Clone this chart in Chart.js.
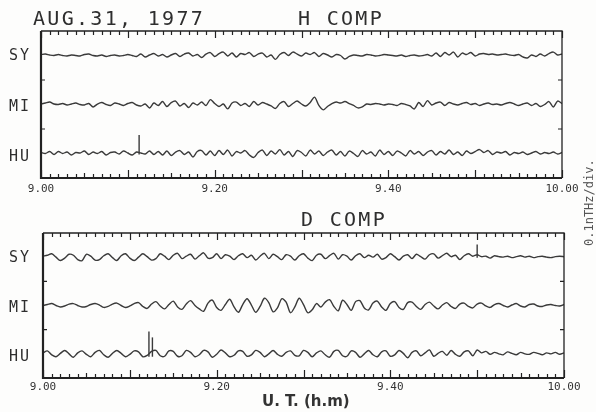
<!DOCTYPE html>
<html>
<head>
<meta charset="utf-8">
<script src="https://cdn.jsdelivr.net/npm/chart.js@4"></script>
<style>
  body { margin:0; width:596px; height:412px; overflow:hidden; position:relative; background:#fdfdfc; color:#2e2e2e; font-family:'DejaVu Sans Mono', monospace; }
  canvas { position:absolute; left:0; }
  #hcomp { top:0; }
  #dcomp { top:200px; }
  .lbl { position:absolute; white-space:nowrap; line-height:1; }
  .title { font-size:20px; letter-spacing:2.3px; }
  .stn { font-size:15px; letter-spacing:2px; left:9px; }
  .ut { font-family:'DejaVu Sans', sans-serif; font-weight:bold; font-size:15px; left:262px; top:394px; color:#333; }
  .unit { font-size:12px; left:583px; top:246px; transform:rotate(-90deg); transform-origin:0 0; color:#555; }
</style>
</head>
<body>
<canvas id="hcomp" width="596" height="200"></canvas>
<canvas id="dcomp" width="596" height="212"></canvas>

<div class="lbl title" style="left:33px;top:8px">AUG.31, 1977</div>
<div class="lbl title" style="left:298px;top:8px">H COMP</div>
<div class="lbl title" style="left:301px;top:209px">D COMP</div>
<div class="lbl stn" style="top:48px">SY</div>
<div class="lbl stn" style="top:99px">MI</div>
<div class="lbl stn" style="top:149px">HU</div>
<div class="lbl stn" style="top:250px">SY</div>
<div class="lbl stn" style="top:300px">MI</div>
<div class="lbl stn" style="top:349px">HU</div>
<div class="lbl ut">U. T. (h.m)</div>
<div class="lbl unit">0.1nTHz/div.</div>

<script>
// samples every half minute from 9.00 to 10.00 UT
var STEP = 0.5;
var TICK_LABELS = ['9.00', '9.20', '9.40', '10.00'];
var STATIONS = ['SY', 'MI', 'HU'];
var BASE = { SY: 5, MI: 3, HU: 1 };   // trace zero lines, in divisions

// deviations in 1/100 division
var H_SY = [4, 6, 2, 0, 4, 0, -2, 2, 0, -2, 4,
  6, 0, -2, 2, -4, 0, 2, -2, 0, 4,
  0, -4, 6, -6, 2, 8, -2, 4, -6, 2,
  8, -4, 6, 10, -2, 4, -8, 6, 12, -4,
  8, 14, -2, 10, -6, 8, 4, 12, -4, 6,
  10, -6, 2, -16, 4, 12, 0, 14, 6, -2,
  10, 4, 12, -4, 8, 2, -6, 4, 0, -14,
  -4, 2, 0, -2, 4, 2, -2, 0, 4, 2,
  0, -2, 2, -4, 0, 2, -2, 0, 4, -2,
  10, -4, 12, 2, 14, -6, 10, 4, 12, -2,
  6, 8, 4, 6, 2, 4, 6, 2, 0, 4,
  -6, -10, 2, -4, 6, -2, 8, 14, 2, 6];
var H_MI = [2, 6, 10, 2, 0, 4, -2, 2, 6, 0, -2,
  4, -10, 2, 8, 0, -4, 6, 2, -4, 4,
  8, -2, -6, 2, -14, 6, -4, 12, -8, 8,
  14, -6, 4, -12, 6, -2, 10, -4, 20, 4,
  -8, 2, -18, 6, 10, -4, 4, -8, 12, -2,
  8, 2, -6, -16, 4, 12, -8, 4, 14, 2,
  -6, 8, 30, -4, -22, -8, 4, 10, 6, 12,
  4, -4, -14, -10, 2, 0, 4, 2, -2, 2,
  0, -4, 4, 0, -6, -18, 8, -8, 16, -2,
  6, 10, -4, 8, 2, -2, 4, 8, 0, 4,
  -4, 2, 6, 0, 2, -2, 4, 8, 2, -4,
  2, 6, -4, 4, -8, 0, 12, -10, 14, 4];
var H_HU = [4, 0, 8, -4, 8, 0, 6, -6, 4, 2, 10,
  -4, 6, 0, 8, -6, 4, 6, -2, 10, 2,
  -6, 6, 2, -2, 10, -4, 8, -6, 10, -8,
  6, 12, -4, 6, -14, 8, 12, -6, 10, -8,
  12, -4, 14, -10, 8, 2, 12, -6, -16, 4,
  14, -8, 10, -2, 16, -6, 8, -12, 12, 4,
  -10, 14, -2, 10, -8, 6, 14, -6, 8, -10,
  10, 0, -12, 12, -2, 6, -10, 14, -4, 8,
  -8, 10, 2, -10, 12, -2, 8, -8, 6, 12,
  -6, 8, -2, 14, -4, 6, -8, 10, 0, 8,
  16, 4, 12, -4, 6, 2, 8, -6, 4, 0,
  6, -4, 2, 8, -2, 4, 0, 6, -2, 4];

var D_SY = [4, 8, 14, 0, -14, -4, 12, 8, -10, -14, 12,
  4, -12, -10, 6, 14, -2, -14, 6, 14, -4,
  -14, 0, 14, 2, -12, -6, 14, 4, -10, 8,
  16, -6, 4, 12, -8, 6, 18, -4, -2, 14,
  -6, 10, 4, -10, 6, 14, -2, 8, -12, 4,
  16, -6, 12, 2, -10, 10, 4, -12, 6, 14,
  -4, -14, 8, 12, -6, 6, 16, -8, 10, 4,
  -12, 6, 14, -2, 8, 0, 12, -8, -2, 14,
  2, -12, 4, 10, -6, 12, 2, -8, 10, 14,
  -4, 6, 16, 2, 8, -10, 6, 14, 4, 10,
  2, 4, -4, 6, 2, 0, 4, -2, 2, 6,
  0, 4, -2, 2, 4, 0, -2, 2, 4, 2];
var D_MI = [0, 4, 8, 0, -6, -2, 6, 8, 0, -6, -4,
  4, 8, 2, -8, -4, 6, 10, 0, -8, -2,
  8, 12, -4, -12, 6, 16, -2, -14, 4, 18,
  -6, -16, 6, 20, 0, -14, -24, 10, 22, -8,
  -20, 4, 26, -6, -28, 4, 28, 2, -28, -4,
  30, 12, -26, -10, 28, 14, -30, -6, 30, 4,
  -30, -18, 8, -6, 14, 24, -4, -22, 22, 4,
  -20, 16, 20, -10, -18, 10, 18, -6, -20, 8,
  16, -8, -16, 12, 14, -4, -16, 4, 14, -2,
  -14, 2, 12, -4, -12, 6, 10, -4, -10, 6,
  10, -2, -8, 4, 8, 0, -6, 2, 8, -2,
  -6, 4, 6, -2, -4, 2, 4, 0, -2, 4];
var D_HU = [4, 12, -4, -12, 2, 14, 0, -14, 4, 12, -2,
  -12, 6, 14, -4, -14, 2, 14, 2, -12, -2,
  12, 8, -12, -6, 10, 14, -8, -10, 12, 10,
  -10, -8, 14, 6, -12, -4, 14, 8, -14, -2,
  16, 4, -12, -6, 12, 10, -10, -4, 14, 6,
  -12, 0, 14, -2, -10, 6, 12, -6, -8, 14,
  6, -12, 4, 12, -4, -14, 10, 14, -8, -10,
  12, 6, -14, 0, 14, -4, -12, 8, 12, -10,
  -4, 14, 2, -16, 6, 12, -8, 4, 16, -10,
  2, 10, -6, 14, -2, -10, 8, 12, -8, 16,
  4, 10, -2, 6, 0, -4, 8, 2, -4, 6,
  0, -2, 6, 2, -4, 4, 0, 6, -2, 4];

// short pulses: time in minutes after 9.00, bottom and top in 1/100 division
var H_SPIKES = [{ stn: 'HU', t: 11.3, lo: -4, hi: 76 }];
var D_SPIKES = [
  { stn: 'HU', t: 12.2, lo: -12, hi: 92 },
  { stn: 'HU', t: 12.6, lo: -12, hi: 68 },
  { stn: 'SY', t: 50.0, lo: -2, hi: 52 }
];

function buildSets(series, spikes) {
  var sets = STATIONS.map(function(stn) {
    return {
      label: stn,
      data: series[stn].map(function(v, i) { return { x: i * STEP, y: BASE[stn] + v / 100 }; })
    };
  });
  spikes.forEach(function(s) {
    sets.push({
      label: s.stn + ' pulse',
      tension: 0,
      data: [{ x: s.t, y: BASE[s.stn] + s.lo / 100 }, { x: s.t, y: BASE[s.stn] + s.hi / 100 }]
    });
  });
  return sets;
}

// box, minute ticks along top and bottom, division ticks on the sides
var frame = {
  id: 'frame',
  afterDraw: function(chart) {
    var ctx = chart.ctx, a = chart.chartArea, x = chart.scales.x, y = chart.scales.y;
    ctx.save();
    ctx.strokeStyle = '#222';
    ctx.lineWidth = 1.3;
    ctx.beginPath();
    ctx.moveTo(a.left, a.top); ctx.lineTo(a.right, a.top); ctx.lineTo(a.right, a.bottom);
    ctx.stroke();
    ctx.lineWidth = 2.2;
    ctx.beginPath();
    ctx.moveTo(a.left, a.top); ctx.lineTo(a.left, a.bottom); ctx.lineTo(a.right, a.bottom);
    ctx.stroke();
    ctx.lineWidth = 1.2;
    ctx.beginPath();
    for (var m = 0; m <= 60; m++) {
      var px = Math.round(x.getPixelForValue(m)) + 0.5;
      var up = m % 10 === 0 ? 8 : (m % 5 === 0 ? 5 : 4);
      var dn = m % 10 === 0 ? 7 : 4;
      ctx.moveTo(px, a.bottom); ctx.lineTo(px, a.bottom - up);
      ctx.moveTo(px, a.top); ctx.lineTo(px, a.top + dn);
    }
    [2, 4].forEach(function(d) {
      var py = y.getPixelForValue(d);
      ctx.moveTo(a.left, py); ctx.lineTo(a.left + 4, py);
      ctx.moveTo(a.right, py); ctx.lineTo(a.right - 4, py);
    });
    ctx.stroke();
    ctx.restore();
  }
};

function makeChart(id, datasets, pad, labelPad) {
  return new Chart(document.getElementById(id).getContext('2d'), {
    type: 'line',
    data: { datasets: datasets },
    options: {
      responsive: false,
      animation: false,
      layout: { padding: pad },
      plugins: { legend: { display: false }, tooltip: { enabled: false } },
      elements: {
        point: { radius: 0 },
        line: { borderColor: '#3a3a3a', borderWidth: 1.4, tension: 0.3 }
      },
      scales: {
        x: {
          type: 'linear', min: 0, max: 60,
          afterFit: function(s) { s.height = 20; },
          grid: { display: false, drawTicks: false },
          border: { display: false },
          ticks: {
            stepSize: 20, autoSkip: false, maxRotation: 0, padding: labelPad,
            color: '#333', font: { family: 'DejaVu Sans Mono', size: 11 },
            callback: function(v) { return TICK_LABELS[v / 20]; }
          }
        },
        y: { display: false, min: 0, max: 6 }
      }
    },
    plugins: [frame]
  });
}

makeChart('hcomp', buildSets({ SY: H_SY, MI: H_MI, HU: H_HU }, H_SPIKES),
  { left: 41, right: 34, top: 31, bottom: 2 }, 5);
makeChart('dcomp', buildSets({ SY: D_SY, MI: D_MI, HU: D_HU }, D_SPIKES),
  { left: 43, right: 32, top: 33, bottom: 14 }, 3);
</script>
</body>
</html>
